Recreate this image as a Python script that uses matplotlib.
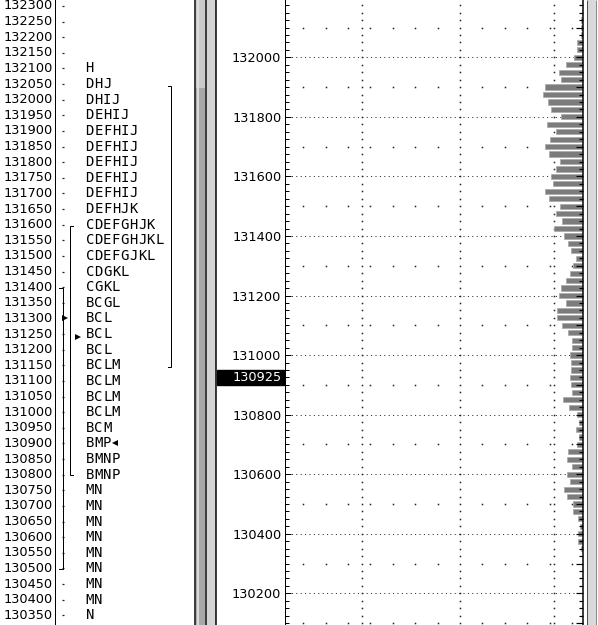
import matplotlib
matplotlib.use("Agg")
import matplotlib.pyplot as plt
from matplotlib.patches import Rectangle
from matplotlib.ticker import MultipleLocator, FixedLocator
import matplotlib.transforms as mtransforms

# ---------------- data ----------------
profile_prices = list(range(132300, 130349, -50))
tpo_letters = [
    "", "", "", "", "H", "DHJ", "DHIJ", "DEHIJ", "DEFHIJ", "DEFHIJ",
    "DEFHIJ", "DEFHIJ", "DEFHIJ", "DEFHJK", "CDEFGHJK", "CDEFGHJKL",
    "CDEFGJKL", "CDGKL", "CGKL", "BCGL", "BCL", "BCL", "BCL", "BCLM",
    "BCLM", "BCLM", "BCLM", "BCM", "BMP", "BMNP", "BMNP", "MN", "MN",
    "MN", "MN", "MN", "MN", "MN", "MN", "N",
]

bar_prices = list(range(132175, 130349, -25))
bar_volume = [
    0, 1, 2, 2, 2, 6.3, 6.3, 8.7, 17.3, 24.3,
    22, 37.7, 40, 35.3, 32, 22, 36.3, 27.3, 33, 37.7,
    34.3, 23.3, 26.7, 32.3, 29.7, 37.7, 34.3, 23.3, 26.7, 21,
    28.7, 18.7, 15.3, 12, 7.3, 9.7, 13, 17.3, 22, 24.3,
    17.3, 26.3, 26.3, 21, 15.3, 10.7, 10.7, 13.3, 12.3, 12.3,
    13.3, 12.3, 10.7, 19.7, 14.3, 6.3, 4.3, 7, 4.3, 6.3,
    15.3, 16.3, 10.7, 16.3, 13.3, 18.7, 16.3, 9.7, 9.7, 5.3,
    2.7, 5.3, 5.3, 2.3,
]

axis_label_prices = list(range(130200, 132001, 200))
half_grid_prices = list(range(130100, 132200, 200))
last_price = 130925

value_area = (132050, 131150)
range_b = (131600, 130800)
range_c = (131400, 130500)
open_marks = [131300, 131250]
close_mark = 130900

# ---------------- figure ----------------
W, H = 598, 625
fig = plt.figure(figsize=(W / 100, H / 100), dpi=100)
plt.rcParams["font.family"] = ["DejaVu Sans"]
FS = 9.3
PX = 0.72  # 1 pixel in points

# background / frame decorations in pixel coordinates
ax_bg = fig.add_axes([0, 0, 1, 1], zorder=0)
ax_bg.set_xlim(0, W)
ax_bg.set_ylim(H, 0)
ax_bg.axis("off")
ax_bg.add_patch(Rectangle((196, 0), 9, H, color="#a8a8a8", lw=0))
ax_bg.add_patch(Rectangle((196, 0), 9, 88, color="#cacaca", lw=0))
ax_bg.add_patch(Rectangle((196.5, 0), 2, H, color="#dadada", lw=0))
ax_bg.add_patch(Rectangle((206.5, 0), 9, H, color="#d4d4d4", lw=0))
ax_bg.vlines([195.2, 205.8, 216.2], 0, H, color="black", lw=1.5 * PX)
ax_bg.vlines([587.2], 0, H, color="#505050", lw=1 * PX)
ax_bg.add_patch(Rectangle((588, 0), 8, H, color="#d9d9d9", lw=0))
ax_bg.vlines([596.3], 0, H, color="#8a8a8a", lw=1 * PX)

# ---------------- left panel (TPO letters) ----------------
ax_l = fig.add_axes([0, 0, 194 / W, 1], zorder=2)
ax_l.set_facecolor("none")
ax_l.set_xlim(0, 194)
ax_l.set_ylim(132300 - 619 * 3.2, 132300 + 6 * 3.2)
ax_l.axis("off")

ax_l.axvline(55.3, color="black", lw=1 * PX)
ax_l.plot([63] * len(profile_prices), profile_prices, ls="none", marker="_",
          ms=1.6, mew=0.9, color="#222222")
CELL = 8.7
for p, letters in zip(profile_prices, tpo_letters):
    ax_l.text(52.5, p, str(p), ha="right", va="center", fontsize=FS,
              color="black")
    for k, ch in enumerate(letters):
        ax_l.text(89.8 + CELL * k, p, ch, ha="center", va="center",
                  fontsize=10.0, family="DejaVu Sans Mono", color="black")


def bracket(x, rng, tick):
    top, bot = rng
    ax_l.plot([x + tick, x, x, x + tick], [top, top, bot, bot],
              color="black", lw=1 * PX, solid_joinstyle="miter")


bracket(171, (value_area[0] - 6, value_area[1] - 4), -3.5)
bracket(70, (range_b[0] - 4, range_b[1] - 2), 3)
bracket(62.5, (range_c[0] - 3, range_c[1] - 3), -4)
ax_l.plot([65.2], [open_marks[0]], marker=">", ms=4.2, color="black", mew=0)
ax_l.plot([78.2], [open_marks[1] - 10], marker=">", ms=4.2, color="black", mew=0)
ax_l.plot([114.6], [close_mark], marker="<", ms=4.2, color="black", mew=0)

# ---------------- right panel (volume profile) ----------------
ax_r = fig.add_axes([285 / W, 0, 298 / W, 1], zorder=2)
ax_r.set_facecolor("none")
ax_r.set_xlim(298, 0)
ylo, yhi = 130093.7, 132192.4
ax_r.set_ylim(ylo, yhi)
for s in ["top", "bottom", "right"]:
    ax_r.spines[s].set_visible(False)
ax_r.spines["left"].set_linewidth(1 * PX)
ax_r.set_xticks([])
ax_r.yaxis.set_major_locator(FixedLocator(axis_label_prices))
ax_r.yaxis.set_minor_locator(MultipleLocator(25))
ax_r.tick_params(axis="y", which="major", direction="in", length=4,
                 width=1 * PX, pad=2.6, labelsize=FS)
ax_r.tick_params(axis="y", which="minor", direction="in", length=3,
                 width=1 * PX)

# grid
ax_r.hlines(axis_label_prices, 9, 295, color="#222222", lw=1 * PX,
            linestyles=(0, (1, 3.4)), zorder=1)
dot_levels = list(range(130100, 132176, 25))
for gx in [29, 123, 221]:
    ax_r.plot([gx] * len(dot_levels), dot_levels, ls="none", marker="s",
              ms=1.1, mew=0, color="#222222", zorder=1)
half_x = [11, 33.4, 55.8, 78.2, 100.6, 145.4, 167.8, 190.2, 212.6, 235,
          257.4, 279.8]
for hp in half_grid_prices:
    ax_r.plot(half_x, [hp] * len(half_x), ls="none", marker="s", ms=1.1,
              mew=0, color="#222222", zorder=1)

# bars
ax_r.barh(bar_prices, bar_volume, height=17.5, left=0, color="#7c7c7c",
          edgecolor="#a8a8a8", linewidth=0.5, zorder=3)

# right scale
ax_r2 = ax_r.twinx()
ax_r2.set_ylim(ylo, yhi)
for s in ["top", "bottom", "left"]:
    ax_r2.spines[s].set_visible(False)
ax_r2.spines["right"].set_linewidth(1.5 * PX)
ax_r2.yaxis.set_major_locator(MultipleLocator(100))
ax_r2.yaxis.set_minor_locator(MultipleLocator(25))
ax_r2.tick_params(axis="y", which="major", direction="in", length=5,
                  width=1.2 * PX, labelright=False)
ax_r2.tick_params(axis="y", which="minor", direction="in", length=3,
                  width=1.2 * PX)

# last-price box
tr = mtransforms.blended_transform_factory(fig.transFigure, ax_r.transData)
box_h = 15 / (625 / (yhi - ylo))
ax_r.add_patch(Rectangle((217 / W, last_price - box_h / 2), 67 / W, box_h,
                         transform=tr, color="black", clip_on=False,
                         zorder=5))
ax_r.text(281.5 / W, last_price, str(last_price), transform=tr, ha="right",
          va="center", color="white", fontsize=FS, zorder=6, clip_on=False)

fig.savefig("out.png", dpi=100)
